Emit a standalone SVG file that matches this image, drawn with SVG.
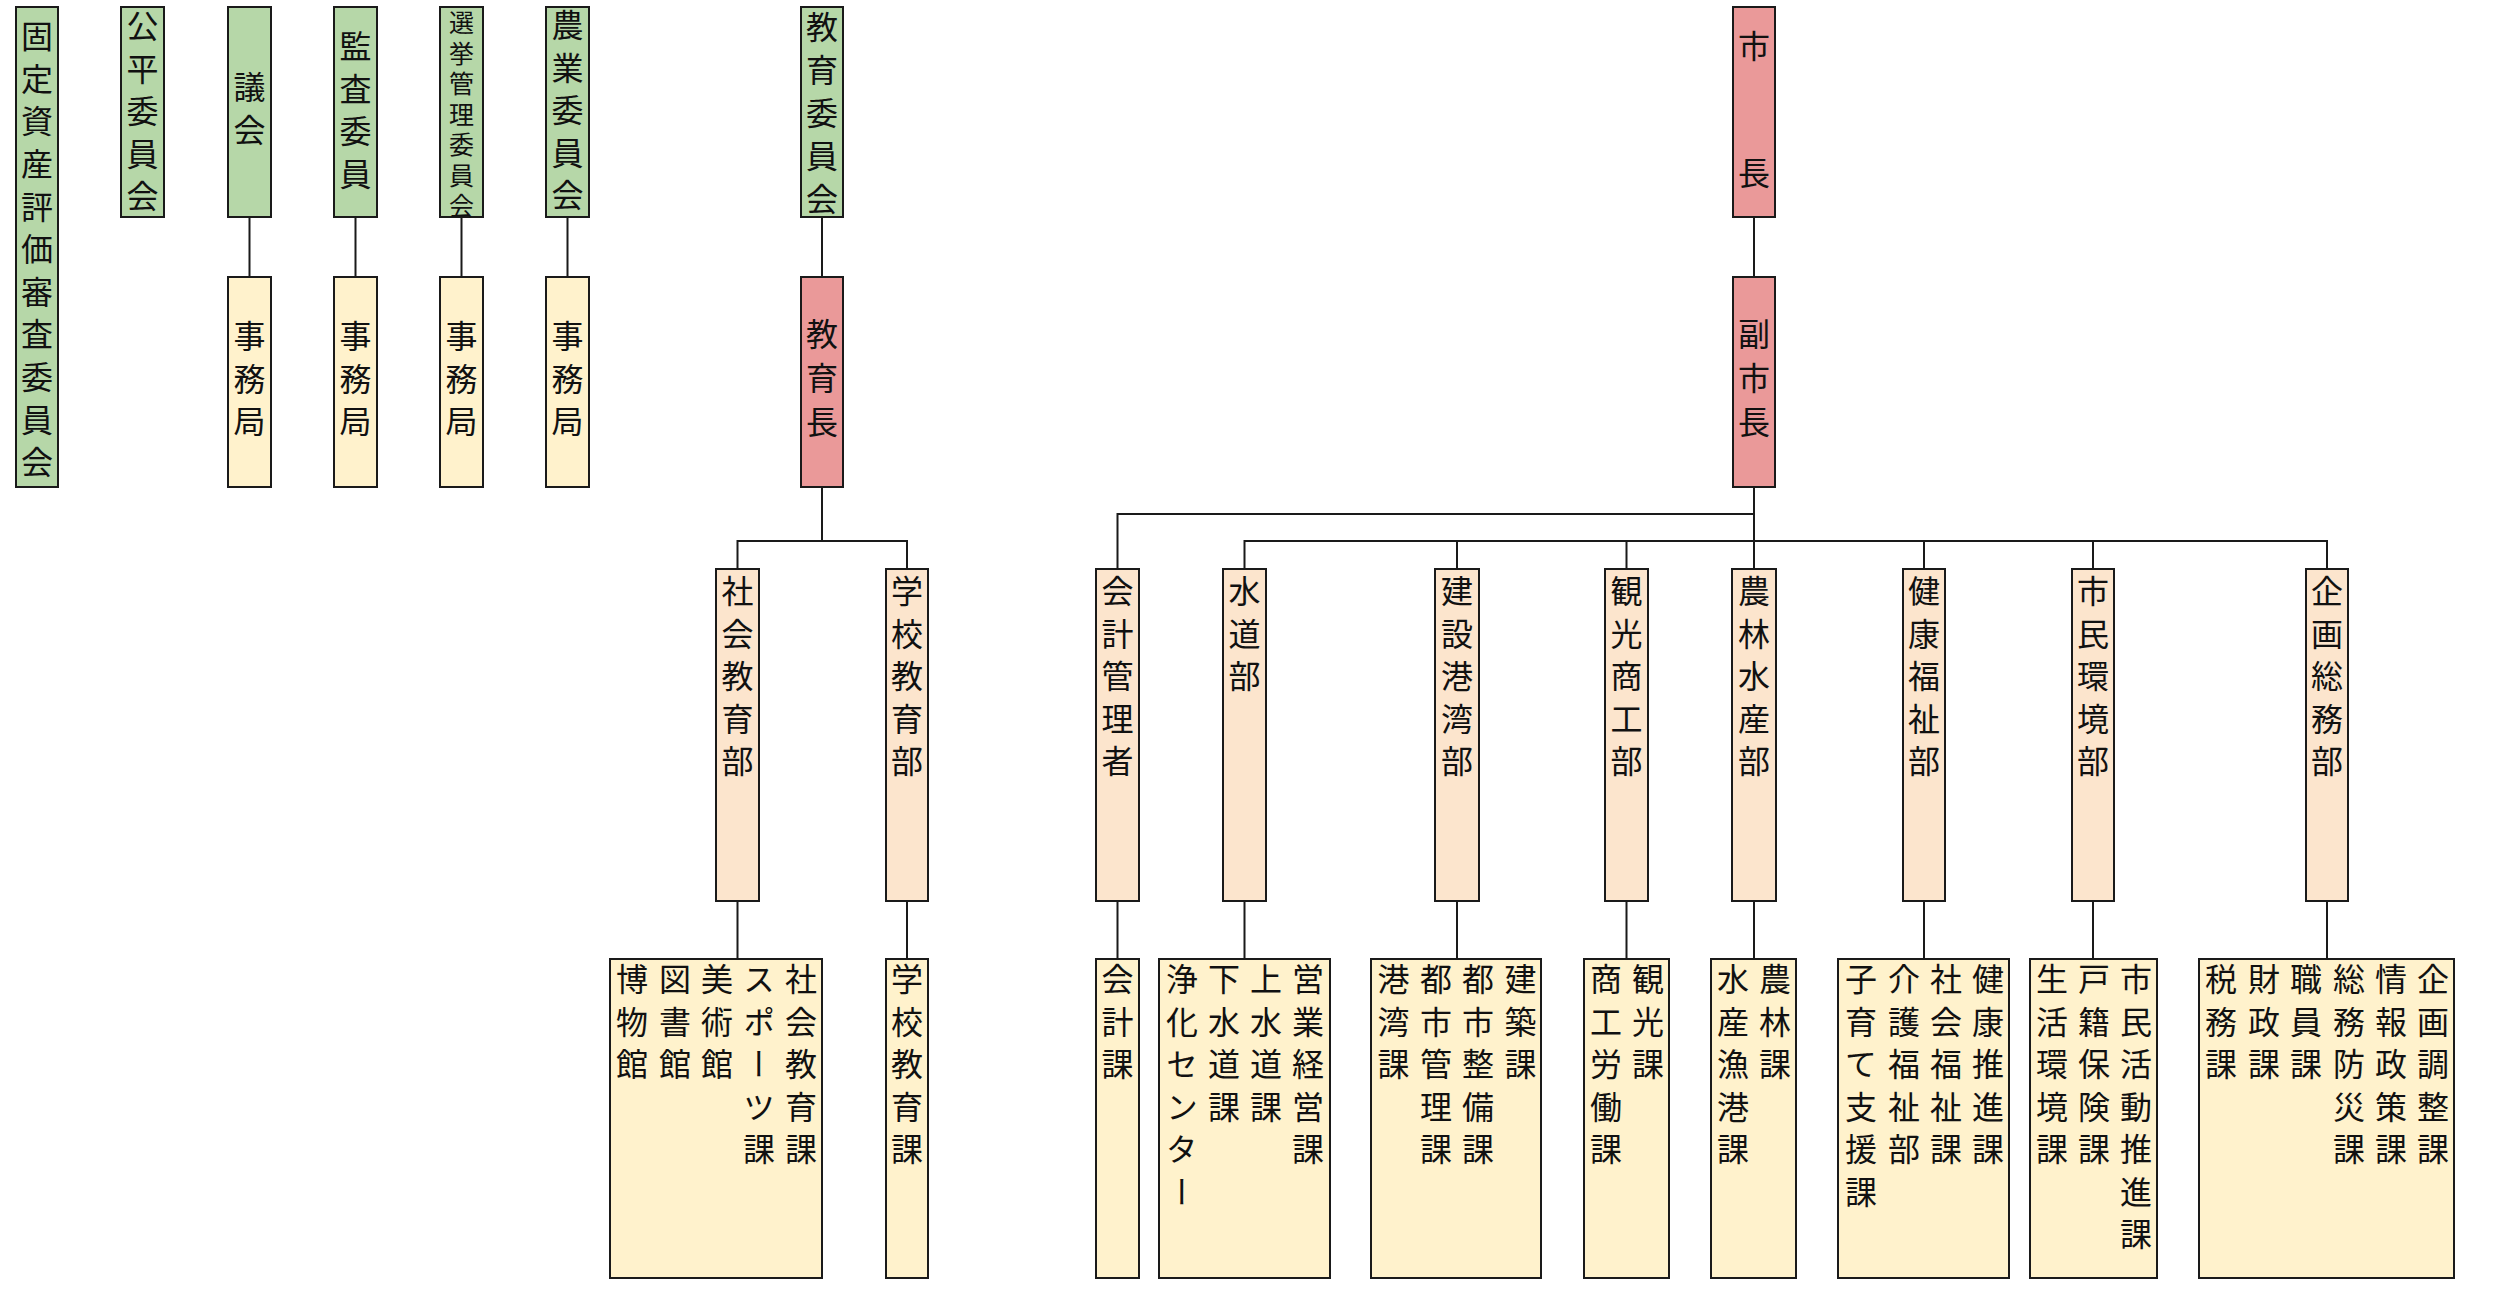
<svg xmlns="http://www.w3.org/2000/svg" width="2500" height="1290" viewBox="0 0 2500 1290">
<style>
rect{stroke:#1a1a1a;stroke-width:2}
.g{fill:#b6d7a8}.r{fill:#ea9999}.d{fill:#fce5cd}.s{fill:#fff2cc}
text{font-family:"Noto Sans CJK JP","Noto Sans CJK SC",sans-serif;font-size:32px;fill:#111;writing-mode:vertical-rl}
.sm{font-size:25px}
#connectors path{fill:none;stroke:#1a1a1a;stroke-width:2}
</style>
<rect width="2500" height="1290" fill="#fff" style="stroke:none"/>
<g id="connectors">
<path d="M249.5 217V277M355.5 217V277M461.5 217V277M567.5 217V277"/>
<path d="M822 217V277M822 487V541M737.5 569V541H907V569M737.5 901V959M907 901V959"/>
<path d="M1754 217V277M1754 487V569M1117.5 569V514H1754M1244.5 569V541H2327V569M1457 541V569M1626.5 541V569M1924 541V569M2093 541V569"/>
<path d="M1117.5 901V959M1244.5 901V959M1457 901V959M1626.5 901V959M1754 901V959M1924 901V959M2093 901V959M2327 901V959"/>
</g>
<g id="n-kotei"><rect class="g" x="16" y="7" width="42" height="480"/><text x="37" y="20 62.6 105.2 147.8 190.4 233 275.6 318.2 360.8 403.4 446">固定資産評価審査委員会</text></g>
<g id="n-kohei"><rect class="g" x="121" y="7" width="43" height="210"/><text x="142.5" y="10 52.5 95 137.5 180">公平委員会</text></g>
<g id="n-gikai"><rect class="g" x="228" y="7" width="43" height="210"/><text x="249.5" y="71 113.5">議会</text></g>
<g id="n-kansa"><rect class="g" x="334" y="7" width="43" height="210"/><text x="355.5" y="30 72.5 115 157.5">監査委員</text></g>
<g id="n-senkyo"><rect class="g" x="440" y="7" width="43" height="210"/><text class="sm" x="461.5" y="10 40.5 71 101.5 132 162.5 193">選挙管理委員会</text></g>
<g id="n-nogyo"><rect class="g" x="546" y="7" width="43" height="210"/><text x="567.5" y="9 51.5 94 136.5 179">農業委員会</text></g>
<g id="n-jim1"><rect class="s" x="228" y="277" width="43" height="210"/><text x="249.5" y="320 362.5 405">事務局</text></g>
<g id="n-jim2"><rect class="s" x="334" y="277" width="43" height="210"/><text x="355.5" y="320 362.5 405">事務局</text></g>
<g id="n-jim3"><rect class="s" x="440" y="277" width="43" height="210"/><text x="461.5" y="320 362.5 405">事務局</text></g>
<g id="n-jim4"><rect class="s" x="546" y="277" width="43" height="210"/><text x="567.5" y="320 362.5 405">事務局</text></g>
<g id="n-kyoiku-iinkai"><rect class="g" x="801" y="7" width="42" height="210"/><text x="822" y="10.5 53.5 96.5 139.5 182.5">教育委員会</text></g>
<g id="n-kyoikucho"><rect class="r" x="801" y="277" width="42" height="210"/><text x="822" y="318 362 406">教育長</text></g>
<g id="n-shicho"><rect class="r" x="1733" y="7" width="42" height="210"/><text x="1754" y="30 157">市長</text></g>
<g id="n-fukushicho"><rect class="r" x="1733" y="277" width="42" height="210"/><text x="1754" y="318 362 406">副市長</text></g>
<g id="n-shakai"><rect class="d" x="716" y="569" width="43" height="332"/><text x="737.5" y="575 617.5 660 702.5 745">社会教育部</text></g>
<g id="n-gakko"><rect class="d" x="886" y="569" width="42" height="332"/><text x="907" y="575 617.5 660 702.5 745">学校教育部</text></g>
<g id="n-kaikei"><rect class="d" x="1096" y="569" width="43" height="332"/><text x="1117.5" y="575 617.5 660 702.5 745">会計管理者</text></g>
<g id="n-suido"><rect class="d" x="1223" y="569" width="43" height="332"/><text x="1244.5" y="575 617.5 660">水道部</text></g>
<g id="n-kensetsu"><rect class="d" x="1435" y="569" width="44" height="332"/><text x="1457" y="575 617.5 660 702.5 745">建設港湾部</text></g>
<g id="n-kanko"><rect class="d" x="1605" y="569" width="43" height="332"/><text x="1626.5" y="575 617.5 660 702.5 745">観光商工部</text></g>
<g id="n-norin"><rect class="d" x="1732" y="569" width="44" height="332"/><text x="1754" y="575 617.5 660 702.5 745">農林水産部</text></g>
<g id="n-kenko"><rect class="d" x="1903" y="569" width="42" height="332"/><text x="1924" y="575 617.5 660 702.5 745">健康福祉部</text></g>
<g id="n-shimin"><rect class="d" x="2072" y="569" width="42" height="332"/><text x="2093" y="575 617.5 660 702.5 745">市民環境部</text></g>
<g id="n-kikaku"><rect class="d" x="2306" y="569" width="42" height="332"/><text x="2327" y="575 617.5 660 702.5 745">企画総務部</text></g>
<g id="s-shakai"><rect class="s" x="610" y="959" width="212" height="319"/>
<text x="801" y="963 1005.5 1048 1090.5 1133">社会教育課</text>
<text x="759" y="963 1005.5 1048 1090.5 1133">スポーツ課</text>
<text x="717" y="963 1005.5 1048">美術館</text>
<text x="675" y="963 1005.5 1048">図書館</text>
<text x="632" y="963 1005.5 1048">博物館</text></g>
<g id="s-gakko"><rect class="s" x="886" y="959" width="42" height="319"/><text x="907" y="963 1005.5 1048 1090.5 1133">学校教育課</text></g>
<g id="s-kaikei"><rect class="s" x="1096" y="959" width="43" height="319"/><text x="1117.5" y="963 1005.5 1048">会計課</text></g>
<g id="s-suido"><rect class="s" x="1159" y="959" width="171" height="319"/>
<text x="1308" y="963 1005.5 1048 1090.5 1133">営業経営課</text>
<text x="1266" y="963 1005.5 1048 1090.5">上水道課</text>
<text x="1224" y="963 1005.5 1048 1090.5">下水道課</text>
<text x="1182" y="963 1005.5 1048 1090.5 1133 1175.5">浄化センター</text></g>
<g id="s-kensetsu"><rect class="s" x="1371" y="959" width="170" height="319"/>
<text x="1520.5" y="963 1005.5 1048">建築課</text>
<text x="1478" y="963 1005.5 1048 1090.5 1133">都市整備課</text>
<text x="1436" y="963 1005.5 1048 1090.5 1133">都市管理課</text>
<text x="1393.5" y="963 1005.5 1048">港湾課</text></g>
<g id="s-kanko"><rect class="s" x="1584" y="959" width="85" height="319"/>
<text x="1648" y="963 1005.5 1048">観光課</text>
<text x="1606" y="963 1005.5 1048 1090.5 1133">商工労働課</text></g>
<g id="s-norin"><rect class="s" x="1711" y="959" width="85" height="319"/>
<text x="1775" y="963 1005.5 1048">農林課</text>
<text x="1733" y="963 1005.5 1048 1090.5 1133">水産漁港課</text></g>
<g id="s-kenko"><rect class="s" x="1838" y="959" width="171" height="319"/>
<text x="1988" y="963 1005.5 1048 1090.5 1133">健康推進課</text>
<text x="1946" y="963 1005.5 1048 1090.5 1133">社会福祉課</text>
<text x="1904" y="963 1005.5 1048 1090.5 1133">介護福祉部</text>
<text x="1861" y="963 1005.5 1048 1090.5 1133 1175.5">子育て支援課</text></g>
<g id="s-shimin"><rect class="s" x="2030" y="959" width="127" height="319"/>
<text x="2136" y="963 1005.5 1048 1090.5 1133 1175.5 1218">市民活動推進課</text>
<text x="2094" y="963 1005.5 1048 1090.5 1133">戸籍保険課</text>
<text x="2052" y="963 1005.5 1048 1090.5 1133">生活環境課</text></g>
<g id="s-kikaku"><rect class="s" x="2199" y="959" width="255" height="319"/>
<text x="2433" y="963 1005.5 1048 1090.5 1133">企画調整課</text>
<text x="2391" y="963 1005.5 1048 1090.5 1133">情報政策課</text>
<text x="2349" y="963 1005.5 1048 1090.5 1133">総務防災課</text>
<text x="2306" y="963 1005.5 1048">職員課</text>
<text x="2264" y="963 1005.5 1048">財政課</text>
<text x="2221" y="963 1005.5 1048">税務課</text></g>
</svg>
